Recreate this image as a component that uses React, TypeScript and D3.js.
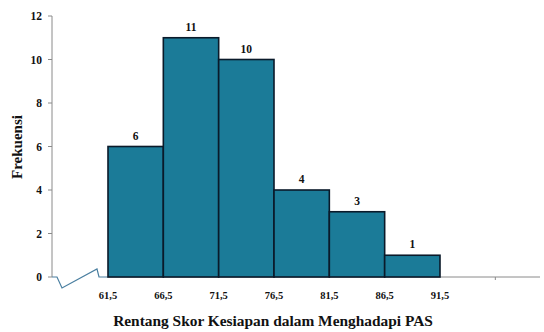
import React from "react";
import * as d3 from "d3";

const bins = ["61,5", "66,5", "71,5", "76,5", "81,5", "86,5", "91,5"];
const edges = [61.5, 66.5, 71.5, 76.5, 81.5, 86.5, 91.5];
const counts = [6, 11, 10, 4, 3, 1];
const yTicks = [0, 2, 4, 6, 8, 10, 12];

const W = 544;
const H = 332;
const axisX = 52;
const font = "'Liberation Serif', 'Times New Roman', serif";

const App = () => {
  const x = d3.scaleLinear().domain([61.5, 91.5]).range([108, 440]);
  const y = d3.scaleLinear().domain([0, 12]).range([277, 16]);
  const y0 = y(0);

  // broken axis zigzag between y axis and first bin
  const zig = d3.line()([
    [axisX, y0],
    [57, y0],
    [62, y0 + 11],
    [97, y0 - 8],
    [99, y0],
    [x(61.5), y0],
  ]);

  return (
    <svg width={W} height={H} style={{ position: "absolute", left: 0, top: 0, background: "#fff" }}>
      {/* y axis */}
      <line x1={axisX} x2={axisX} y1={y(12)} y2={y0} stroke="#8a8a8a" strokeWidth={1} />
      {yTicks.map(t => (
        <g key={t}>
          <line x1={axisX - 4} x2={axisX} y1={y(t)} y2={y(t)} stroke="#8a8a8a" />
          <text x={axisX - 10} y={y(t)} dy="0.35em" textAnchor="end" fontFamily={font} fontWeight="bold" fontSize={11.5} fill="#111">
            {t}
          </text>
        </g>
      ))}
      {/* x axis */}
      <path d={zig ?? ""} fill="none" stroke="#4a7fa0" strokeWidth={1.2} />
      <line x1={x(61.5)} x2={540} y1={y0} y2={y0} stroke="#8a8a8a" />
      <line x1={x(96.5)} x2={x(96.5)} y1={y0} y2={y0 + 3} stroke="#8a8a8a" />
      {counts.map((c, i) => (
        <g key={i}>
          <rect
            x={x(edges[i])}
            y={y(c)}
            width={x(edges[i + 1]) - x(edges[i])}
            height={y0 - y(c)}
            fill="#1b7b98"
            stroke="#0a1a2a"
            strokeWidth={1.6}
          />
          <text
            x={(x(edges[i]) + x(edges[i + 1])) / 2}
            y={y(c) - 7}
            textAnchor="middle"
            fontFamily={font}
            fontWeight="bold"
            fontSize={11.5}
            fill="#111"
          >
            {c}
          </text>
        </g>
      ))}
      {bins.map((b, i) => (
        <text key={b} x={x(edges[i])} y={299} textAnchor="middle" fontFamily={font} fontWeight="bold" fontSize={10.5} fill="#111">
          {b}
        </text>
      ))}
      <text x={273} y={326} textAnchor="middle" fontFamily={font} fontWeight="bold" fontSize={15.4} fill="#111">
        Rentang Skor Kesiapan dalam Menghadapi PAS
      </text>
      <text
        transform={`translate(22,147) rotate(-90)`}
        textAnchor="middle"
        fontFamily={font}
        fontWeight="bold"
        fontSize={15}
        fill="#111"
      >
        Frekuensi
      </text>
    </svg>
  );
};

export default App;
